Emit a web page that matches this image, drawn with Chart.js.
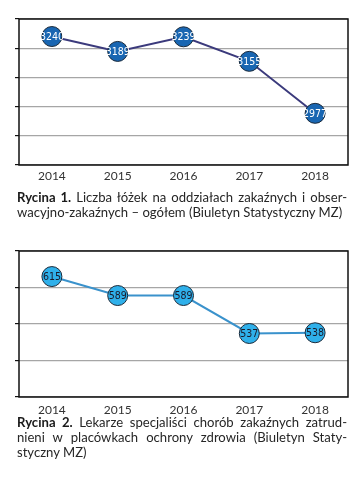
<!DOCTYPE html>
<html>
<head>
<meta charset="utf-8">
<script src="https://cdn.jsdelivr.net/npm/chart.js@4"></script>
<style>
  body { margin: 0; background: #fff; width: 364px; height: 486px; position: relative; overflow: hidden; }
  .box { position: absolute; left: 0; width: 364px; height: 190px; }
  .cap { position: absolute; left: 17px; width: 330px; font-family: Lato, "Open Sans", sans-serif;
         font-size: 13.1px; line-height: 15px; color: #262626; }
  .cap div { text-align: justify; text-align-last: justify; white-space: nowrap; }
  .cap div.last { text-align-last: left; }
  .cap b { color: #1a1a1a; }
</style>
</head>
<body>
<div class="box" style="top:0"><canvas id="c1"></canvas></div>
<div class="cap" style="top:190px">
  <div><b>Rycina 1.</b> Liczba łóżek na oddziałach zakaźnych i obser-</div>
  <div class="last">wacyjno-zakaźnych – ogółem (Biuletyn Statystyczny MZ)</div>
</div>
<div class="box" style="top:230px"><canvas id="c2"></canvas></div>
<div class="cap" style="top:415px">
  <div><b>Rycina 2.</b> Lekarze specjaliści chorób zakaźnych zatrud-</div>
  <div>nieni w placówkach ochrony zdrowia (Biuletyn Staty-</div>
  <div class="last">styczny MZ)</div>
</div>
<script>
var years = ['2014', '2015', '2016', '2017', '2018'];
var beds = [3240, 3189, 3239, 3155, 2977];
var doctors = [615, 589, 589, 537, 538];

// labels inside the markers
var pointLabels = {
	id: 'pointLabels',
	afterDatasetsDraw: function (chart) {
		var ctx = chart.ctx;
		var meta = chart.getDatasetMeta(0);
		var ds = chart.data.datasets[0];
		ctx.save();
		ctx.font = '10.5px "Liberation Sans Narrow", "DejaVu Sans Condensed", sans-serif';
		ctx.textAlign = 'center';
		ctx.textBaseline = 'middle';
		ctx.fillStyle = ds.labelColor;
		for (var i = 0; i < meta.data.length; i++) {
			var p = meta.data[i];
			ctx.fillText(ds.data[i], p.x, p.y + 0.5);
		}
		ctx.restore();
	}
};

// black frame round the plot
var frame = {
	id: 'frame',
	beforeDatasetsDraw: function (chart) {
		var a = chart.chartArea;
		var ctx = chart.ctx;
		ctx.save();
		ctx.strokeStyle = '#111';
		ctx.lineWidth = 1.5;
		ctx.strokeRect(a.left, a.top, a.right - a.left, a.bottom - a.top);
		ctx.restore();
	}
};

function makeChart(id, values, min, max, step, lineColor, pointColor, labelColor, pad) {
	return new Chart(document.getElementById(id), {
		type: 'line',
		data: {
			labels: years,
			datasets: [{
				data: values,
				borderColor: lineColor,
				borderWidth: 2,
				pointRadius: 10,
				pointHoverRadius: 10,
				pointBackgroundColor: pointColor,
				pointBorderColor: '#1b2a3a',
				pointBorderWidth: 1,
				labelColor: labelColor,
				tension: 0
			}]
		},
		options: {
			responsive: true,
			maintainAspectRatio: false,
			animation: false,
			layout: { padding: { left: 15, right: 16, top: pad.top, bottom: pad.bottom } },
			plugins: { legend: { display: false }, tooltip: { enabled: false } },
			scales: {
				x: {
					offset: true,
					grid: { display: false, drawTicks: false },
					border: { display: false },
					ticks: { color: '#333', padding: pad.tick, font: { family: 'Lato, "Open Sans", sans-serif', size: 12 } },
					afterFit: function (s) { s.height = 20; }
				},
				y: {
					min: min,
					max: max,
					grid: { color: '#a6a6a6', lineWidth: 1.2, tickColor: '#111', tickLength: 4 },
					border: { display: false },
					ticks: { display: false, stepSize: step },
					afterFit: function (s) { s.width = 4; }
				}
			}
		},
		plugins: [frame, pointLabels]
	});
}

makeChart('c1', beds, 2800, 3300, 100, '#3b3a7c', '#1966b2', '#ffffff', { top: 19, bottom: 5, tick: 4 });
makeChart('c2', doctors, 450, 650, 50, '#3a92cc', '#2fb0ea', '#1a1a2a', { top: 21, bottom: 3, tick: 6 });
</script>
</body>
</html>
